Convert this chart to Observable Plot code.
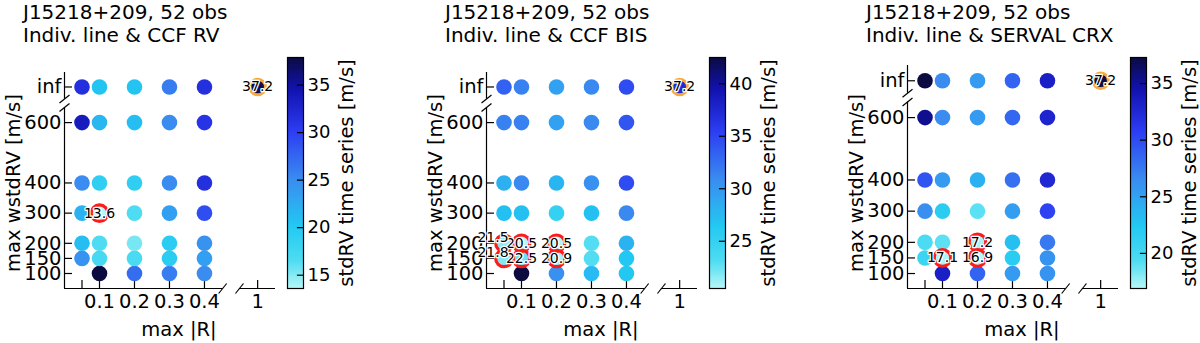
<!DOCTYPE html>
<html><head><meta charset="utf-8">
<script src="https://cdn.jsdelivr.net/npm/d3@7"></script>
<script src="https://cdn.jsdelivr.net/npm/@observablehq/plot@0.6"></script>
<style>
body{margin:0;background:#fff;}
#chart{position:relative;width:1200px;height:343px;overflow:hidden;font-family:"DejaVu Sans",sans-serif;}
#chart svg{position:absolute;top:0;overflow:visible;background:transparent;}
</style></head><body><div id="chart"></div>
<script>
// ---------- data ----------
const starName = "J15218+209, 52 obs";
const panelTitles = ["Indiv. line & CCF RV", "Indiv. line & CCF BIS", "Indiv. line & SERVAL CRX"];
const xLabel = "max |R|";
const yLabel = "max wstdRV [m/s]";
const cbarLabel = "stdRV time series [m/s]";

const xCats = [0.05, 0.1, 0.2, 0.3, 0.4];            // max |R|
const yCats = [100, 150, 200, 300, 400, 600, Infinity]; // max wstdRV
const refR = 1;                                       // no |R| cut
const refStd = 37.2;                                  // stdRV with no cut
const xTickVals = [0.1, 0.2, 0.3, 0.4, 1];
const xTickLabels = ["0.1", "0.2", "0.3", "0.4", "1"];
const yTickLabels = ["100", "150", "200", "300", "400", "600", "inf"];
const cbarTicks = [[15, 20, 25, 30, 35], [25, 30, 35, 40], [20, 25, 30, 35]];

// rows follow yCats (100 ... inf), columns follow xCats; null = no result
const stdCcfRv = [
  [null, 37.9, 27.0, 26.0, 25.0],
  [24.5, 17.0, 16.8, 19.5, 23.5],
  [21.0, 16.5, 15.3, 19.5, 24.5],
  [22.0, 13.6, 16.5, 23.5, 29.0],
  [25.0, 19.0, 19.0, 25.0, 31.5],
  [33.5, 21.5, 21.0, 25.0, 31.0],
  [31.5, 20.5, 20.5, 26.0, 31.5]
];
const stdCcfBis = [
  [null, 42.5, 30.5, 27.5, 26.5],
  [21.8, 22.5, 20.9, 23.0, 26.5],
  [21.5, 20.5, 20.5, 23.0, 28.0],
  [27.0, 27.0, 25.0, 27.0, 31.0],
  [28.2, 31.0, 27.8, 30.5, 34.6],
  [31.5, 31.5, 29.3, 31.0, 34.0],
  [33.3, 31.5, 29.3, 31.0, 34.6]
];
const stdServalCrx = [
  [null, 33.2, 28.7, 25.5, 26.0],
  [20.6, 17.1, 16.9, 21.8, 26.0],
  [19.5, 19.0, 17.2, 23.0, 27.5],
  [26.3, 21.8, 19.0, 25.3, 30.4],
  [29.5, 25.5, 24.0, 28.0, 32.5],
  [35.3, 26.5, 25.5, 28.5, 32.8],
  [37.3, 26.5, 25.5, 28.7, 33.2]
];
// highlighted (best) combinations as [max|R|, max wstdRV]
const markedRv = [[0.1, 300]];
const markedBis = [[0.05, 200], [0.05, 150], [0.1, 200], [0.1, 150], [0.2, 200], [0.2, 150]];
const markedCrx = [[0.2, 200], [0.1, 150], [0.2, 150]];

// ---------- style ----------
const cmapPos = [0, 0.12, 0.27, 0.47, 0.68, 0.86, 1];
const cmapCol = ["#b4f6f6", "#4ddcf2", "#22c8f2", "#3a8cf0", "#2c3cf2", "#1212b0", "#0b0b40"];
const cmap = t => {
  t = Math.max(0, Math.min(1, t));
  let i = 1;
  while (i < cmapPos.length - 1 && t > cmapPos[i]) i++;
  const u = (t - cmapPos[i - 1]) / (cmapPos[i] - cmapPos[i - 1]);
  return d3.interpolateRgb(cmapCol[i - 1], cmapCol[i])(u);
};

const panels = [
  {values: stdCcfRv, marked: markedRv, title: panelTitles[0], ticks: cbarTicks[0], left: 0, top: 72, yLo: 50.3, yHi: 766, cbLeft: 282},
  {values: stdCcfBis, marked: markedBis, title: panelTitles[1], ticks: cbarTicks[1], left: 422, top: 72, yLo: 50.3, yHi: 766, cbLeft: 704},
  {values: stdServalCrx, marked: markedCrx, title: panelTitles[2], ticks: cbarTicks[2], left: 843, top: 65, yLo: 52, yHi: 767, cbLeft: 1125}
];

const W = 290, H = 343, mL = 64, mR = 15, mB = 55;
const X_MAX = 0.603, X_REF = 0.552, Y_INF = 718;
const xPos = d => (d === refR ? X_REF : d);
const yPos = d => (d === Infinity ? Y_INF : d);
const FONT = "DejaVu Sans";
const chart = document.getElementById("chart");

for (const p of panels) {
  const pts = [];
  yCats.forEach((y, i) => xCats.forEach((x, j) => {
    const v = p.values[i][j];
    if (v != null) pts.push({x, y, v, marked: p.marked.some(m => m[0] === x && m[1] === y)});
  }));
  const marked = pts.filter(d => d.marked);
  const ext = d3.extent(pts, d => d.v);
  const color = {type: "linear", domain: ext, interpolate: cmap, clamp: true};
  const xPx = X_MAX / (W - mL - mR);
  const yPx = (p.yHi - p.yLo) / (H - mB - p.top);
  const yBrkLo = 650, yBrkHi = 678, xBrkL = 0.452, xBrkR = 0.5;
  const brk = [
    {x1: -5 * xPx, y1: yBrkLo - 4 * yPx, x2: 5 * xPx, y2: yBrkLo + 4 * yPx},
    {x1: -5 * xPx, y1: yBrkHi - 4 * yPx, x2: 5 * xPx, y2: yBrkHi + 4 * yPx},
    {x1: xBrkL - 4 * xPx, y1: p.yLo - 5 * yPx, x2: xBrkL + 4 * xPx, y2: p.yLo + 5 * yPx},
    {x1: xBrkR - 4 * xPx, y1: p.yLo - 5 * yPx, x2: xBrkR + 4 * xPx, y2: p.yLo + 5 * yPx}
  ];
  const ref = [{x: refR, y: Infinity, v: refStd}];
  // labels of the left-most column sit up-left of their dot, as in the original figure
  const lblDx = d => (d.x === xCats[0] ? -11 : 0);
  const lblDy = d => (d.x === xCats[0] ? -6 : 0);
  const markedMain = marked.filter(d => d.x !== xCats[0]);
  const markedFirst = marked.filter(d => d.x === xCats[0]);
  const lblStyle = {fontSize: 14, fill: "black", stroke: "white", strokeWidth: 2.5, paintOrder: "stroke"};

  const svg = Plot.plot({
    width: W, height: H, marginLeft: mL, marginRight: mR, marginTop: p.top, marginBottom: mB,
    x: {domain: [0, X_MAX], axis: null},
    y: {domain: [p.yLo, p.yHi], axis: null},
    color,
    style: {fontFamily: FONT, fontSize: "19.5px", color: "black", background: "transparent", overflow: "visible"},
    marks: [
      // axes (broken)
      Plot.ruleX([0], {y1: p.yLo, y2: yBrkLo, stroke: "black", strokeWidth: 1.2}),
      Plot.ruleX([0], {y1: yBrkHi, y2: p.yHi, stroke: "black", strokeWidth: 1.2}),
      Plot.ruleY([p.yLo], {x1: 0, x2: xBrkL, stroke: "black", strokeWidth: 1.2}),
      Plot.ruleY([p.yLo], {x1: xBrkR, x2: X_MAX, stroke: "black", strokeWidth: 1.2}),
      Plot.link(brk, {x1: "x1", y1: "y1", x2: "x2", y2: "y2", stroke: "black", strokeWidth: 1.2}),
      // ticks
      Plot.ruleY(yCats, {y: yPos, x1: 0, x2: 8 * xPx, stroke: "black", strokeWidth: 1.2}),
      Plot.ruleX([...xCats, refR], {x: xPos, y1: p.yLo, y2: p.yLo + 8 * yPx, stroke: "black", strokeWidth: 1.2}),
      Plot.text(yCats, {x: 0, y: yPos, text: (d, i) => yTickLabels[i], textAnchor: "end", dx: -3, fontSize: 19.5, fill: "black"}),
      Plot.text(xTickVals, {x: xPos, y: p.yLo, text: (d, i) => xTickLabels[i], lineAnchor: "top", dy: 5.5, fontSize: 19.5, fill: "black"}),
      // axis labels
      Plot.text([xLabel], {x: 0.327, y: p.yLo, dy: 47, lineAnchor: "bottom", fontSize: 19.5, fill: "black"}),
      Plot.text([yLabel], {frameAnchor: "left", textAnchor: "middle", lineAnchor: "middle", dx: -51, dy: 182.5 - (p.top + H - mB) / 2, rotate: -90, fontSize: 19.5, fill: "black"}),
      // title
      Plot.text([starName], {frameAnchor: "top-left", textAnchor: "start", lineAnchor: "bottom", dx: -41.5, dy: 18.5 - p.top, fontSize: 20, fill: "black"}),
      Plot.text([p.title], {frameAnchor: "top-left", textAnchor: "start", lineAnchor: "bottom", dx: -41.5, dy: 41 - p.top, fontSize: 20, fill: "black"}),
      // data
      Plot.dot(pts, {x: "x", y: d => yPos(d.y), fill: "v", r: 7.8}),
      Plot.dot(marked, {x: "x", y: d => yPos(d.y), r: 8.3, stroke: "#ff1a1a", strokeWidth: 3.2, fill: "none"}),
      Plot.dot(ref, {x: d => xPos(d.x), y: d => yPos(d.y), fill: "v", r: 7.8, stroke: "#f8a93a", strokeWidth: 3}),
      Plot.text(markedMain, {x: "x", y: d => yPos(d.y), text: d => d.v.toFixed(1), ...lblStyle}),
      Plot.text(markedFirst, {x: "x", y: d => yPos(d.y), text: d => d.v.toFixed(1), dx: -11, dy: -6, ...lblStyle}),
      Plot.text(ref, {x: d => xPos(d.x), y: d => yPos(d.y), text: d => d.v.toFixed(1), ...lblStyle})
    ]
  });
  svg.style.left = p.left + "px";
  chart.appendChild(svg);

  // colorbar
  const n = 240, step = (ext[1] - ext[0]) / n;
  const cbW = 90, barL = 5, barW = 16;
  const cb = Plot.plot({
    width: cbW, height: H, marginLeft: barL, marginRight: cbW - barL - barW, marginTop: 57, marginBottom: mB,
    x: {domain: [0, 1], axis: null},
    y: {domain: ext, axis: null},
    color,
    style: {fontFamily: FONT, fontSize: "18px", color: "black", background: "transparent", overflow: "visible"},
    marks: [
      Plot.rect(d3.range(n), {x1: 0, x2: 1, y1: i => ext[0] + i * step, y2: i => ext[0] + (i + 1.2) * step, fill: i => ext[0] + (i + 0.5) * step, shapeRendering: "crispEdges"}),
      Plot.frame({stroke: "black", strokeWidth: 1.2}),
      Plot.ruleY(p.ticks, {y: d => d, x1: 0.62, x2: 1, stroke: "black", strokeWidth: 1.2}),
      Plot.text(p.ticks, {x: 1, y: d => d, dx: 4, textAnchor: "start", fontSize: 18, fill: "black"}),
      Plot.text([cbarLabel], {frameAnchor: "right", textAnchor: "middle", lineAnchor: "middle", dx: 43, rotate: -90, fontSize: 19.5, fill: "black"})
    ]
  });
  cb.style.left = p.cbLeft + "px";
  chart.appendChild(cb);
}
</script></body></html>
